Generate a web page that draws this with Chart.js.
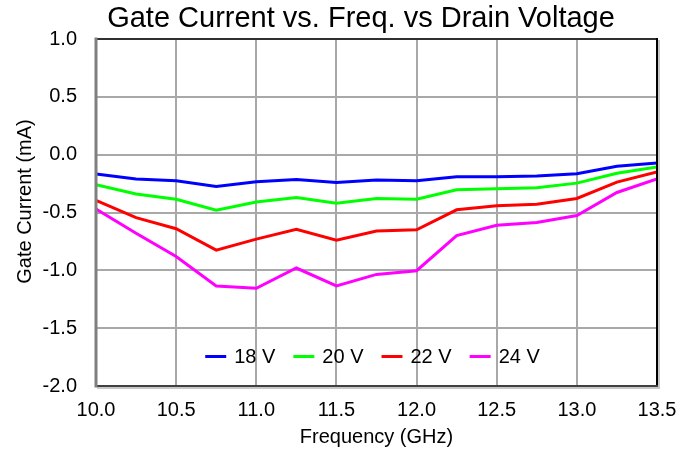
<!DOCTYPE html>
<html>
<head>
<meta charset="utf-8">
<script src="https://cdn.jsdelivr.net/npm/chart.js@4/dist/chart.umd.min.js"></script>
<style>
  html, body { margin: 0; padding: 0; background: #ffffff; }
  #wrap { width: 695px; height: 453px; position: relative; }
</style>
</head>
<body>
<div id="wrap"><canvas id="c" width="695" height="453"></canvas></div>
<script>
// ---- data ----
const chartTitle = 'Gate Current vs. Freq. vs Drain Voltage';
const xTitle = 'Frequency (GHz)';
const yTitle = 'Gate Current (mA)';
const freqs = [10.0, 10.25, 10.5, 10.75, 11.0, 11.25, 11.5, 11.75, 12.0, 12.25, 12.5, 12.75, 13.0, 13.25, 13.5];
const seriesLabels = ['18 V', '20 V', '22 V', '24 V'];
const v18 = [-0.167, -0.21, -0.225, -0.275, -0.234, -0.214, -0.24, -0.22, -0.225, -0.19, -0.19, -0.185, -0.165, -0.10, -0.073];
const v20 = [-0.26, -0.34, -0.385, -0.48, -0.41, -0.37, -0.42, -0.38, -0.385, -0.303, -0.295, -0.286, -0.246, -0.16, -0.107];
const v22 = [-0.396, -0.545, -0.64, -0.825, -0.73, -0.645, -0.74, -0.66, -0.65, -0.477, -0.442, -0.428, -0.379, -0.237, -0.15];
const v24 = [-0.47, -0.68, -0.88, -1.135, -1.155, -0.98, -1.135, -1.035, -1.003, -0.70, -0.61, -0.587, -0.526, -0.327, -0.21];
const xMin = 10.0, xMax = 13.5, xStep = 0.5;
const yMin = -2.0, yMax = 1.0, yStep = 0.5;

// ---- styles ----
const colors = ['#0000ff', '#00ff00', '#ff0000', '#ff00ff'];
const FONT = "'Liberation Sans', Arial, sans-serif";

const seriesValues = [v18, v20, v22, v24];
const datasets = seriesValues.map((vals, i) => ({
  label: seriesLabels[i],
  data: freqs.map((f, j) => ({ x: f, y: vals[j] })),
  borderColor: colors[i],
  backgroundColor: colors[i],
  borderWidth: 3,
  pointRadius: 0,
  tension: 0,
  fill: false
}));

const decorPlugin = {
  id: 'decor',
  afterDatasetsDraw(chart) {
    const ctx = chart.ctx;
    const a = chart.chartArea;
    ctx.save();
    // frame
    ctx.lineCap = 'square';
    ctx.strokeStyle = '#c8c8c8';
    ctx.lineWidth = 2;
    ctx.beginPath();
    ctx.moveTo(a.right + 2, a.top + 2); ctx.lineTo(a.right + 2, a.bottom + 2); ctx.lineTo(a.left + 2, a.bottom + 2);
    ctx.stroke();
    ctx.strokeStyle = '#303030';
    ctx.lineWidth = 2;
    ctx.beginPath(); ctx.moveTo(a.left, a.top); ctx.lineTo(a.right, a.top); ctx.stroke();
    ctx.strokeStyle = '#000000';
    ctx.beginPath(); ctx.moveTo(a.right, a.top); ctx.lineTo(a.right, a.bottom); ctx.stroke();
    ctx.strokeStyle = '#404040';
    ctx.beginPath(); ctx.moveTo(a.left, a.bottom); ctx.lineTo(a.right, a.bottom); ctx.stroke();
    ctx.strokeStyle = '#808080';
    ctx.lineWidth = 3;
    ctx.beginPath(); ctx.moveTo(a.left, a.top); ctx.lineTo(a.left, a.bottom); ctx.stroke();

    // legend inside plot
    ctx.font = '20px ' + FONT;
    ctx.textBaseline = 'middle';
    ctx.textAlign = 'left';
    const lineLen = 21, gap = 8, itemGap = 18;
    const ds = chart.data.datasets;
    let total = 0;
    ds.forEach((d, i) => {
      total += lineLen + gap + ctx.measureText(d.label).width;
      if (i < ds.length - 1) total += itemGap;
    });
    let x = (a.left + a.right) / 2 - 4 - total / 2;
    const y = a.top + (a.bottom - a.top) * 0.915;
    ds.forEach((d) => {
      ctx.strokeStyle = d.borderColor;
      ctx.lineWidth = 3;
      ctx.lineCap = 'butt';
      ctx.beginPath(); ctx.moveTo(x, y); ctx.lineTo(x + lineLen, y); ctx.stroke();
      x += lineLen + gap;
      ctx.fillStyle = '#000000';
      ctx.fillText(d.label, x, y + 1);
      x += ctx.measureText(d.label).width + itemGap;
    });

    // chart title
    ctx.font = '29px ' + FONT;
    ctx.textAlign = 'center';
    ctx.textBaseline = 'middle';
    ctx.fillStyle = '#000000';
    ctx.fillText(chartTitle, 361, 19);

    // y-axis title
    ctx.font = '20px ' + FONT;
    ctx.translate(25, (a.top + a.bottom) / 2 - 11);
    ctx.rotate(-Math.PI / 2);
    ctx.fillText(yTitle, 0, 0);
    ctx.restore();
  }
};

new Chart(document.getElementById('c'), {
  type: 'line',
  data: { datasets },
  options: {
    responsive: false,
    animation: false,
    devicePixelRatio: 1,
    layout: { padding: { top: 39, right: 38, bottom: 4, left: 0 } },
    plugins: {
      legend: { display: false },
      title: { display: false },
      tooltip: { enabled: false }
    },
    scales: {
      x: {
        type: 'linear',
        min: xMin, max: xMax,
        afterFit(scale) { scale.height = 63; },
        ticks: {
          stepSize: xStep,
          color: '#000000',
          font: { family: FONT, size: 20 },
          padding: 12,
          maxRotation: 0,
          autoSkip: false,
          callback: v => Number(v).toFixed(1)
        },
        grid: { color: '#a8a8a8', lineWidth: 2, drawTicks: false },
        border: { display: false },
        title: {
          display: true, text: xTitle, color: '#000000',
          font: { family: FONT, size: 20 },
          padding: { top: 0, bottom: 0 }
        }
      },
      y: {
        min: yMin, max: yMax,
        afterFit(scale) { scale.width = 96; },
        ticks: {
          stepSize: yStep,
          color: '#000000',
          font: { family: FONT, size: 20 },
          padding: 19,
          callback: v => Number(v).toFixed(1)
        },
        grid: { color: '#a8a8a8', lineWidth: 2, drawTicks: false },
        border: { display: false },
        title: { display: false, text: yTitle }
      }
    }
  },
  plugins: [decorPlugin]
});
</script>
</body>
</html>
